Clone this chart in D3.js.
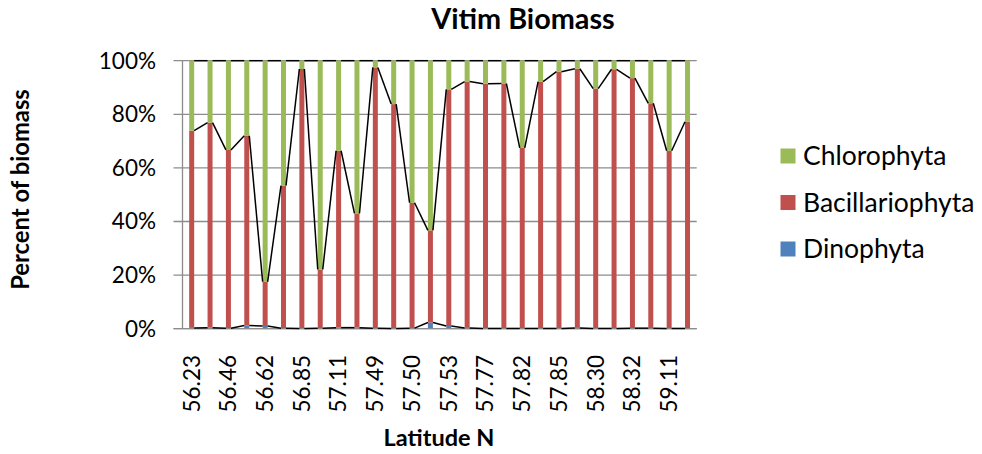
<!DOCTYPE html>
<html>
<head>
<meta charset="utf-8">
<script src="https://cdn.jsdelivr.net/npm/d3@7"></script>
<style>
  html, body { margin: 0; padding: 0; background: #fff; }
  svg { display: block; font-family: Lato, "Open Sans", sans-serif; }
</style>
</head>
<body>
<svg id="chart" width="982" height="454"></svg>
<script>
// Station latitude labels (only every other one is shown on the axis; blanks are hidden labels)
const latitudeLabels = ["56.23","","56.46","","56.62","","56.85","","57.11","","57.49","","57.50","",
                        "57.53","","57.77","","57.82","","57.85","","58.30","","58.32","","59.11",""];
const stations = latitudeLabels.map((d, i) => i);

// Percent of biomass per station
const dinophyta = [0.3,0.4,0.2,1.2,1.0,0.2,0.1,0.2,0.4,0.4,0.2,0.1,0.2,2.3,
                   1.0,0.3,0.1,0.1,0.1,0.1,0.1,0.3,0.1,0.1,0.2,0.2,0.1,0.1];
const bacillariophyta = [73.6,76.5,66.5,70.8,16.5,53.2,96.8,21.9,66.0,42.6,97.3,83.7,46.8,34.4,
                         88.3,91.9,91.3,91.4,67.4,92.1,95.8,96.7,89.5,96.7,93.3,83.9,66.3,77.1];
const chlorophyta = dinophyta.map((d, i) => +(100 - d - bacillariophyta[i]).toFixed(1));

const seriesNames = ["Dinophyta", "Bacillariophyta", "Chlorophyta"];
const seriesColors = ["#4F81BD", "#C0504D", "#9BBB59"];
const yTicks = [0, 20, 40, 60, 80, 100];

const table = stations.map((s, i) => ({
  station: s,
  Dinophyta: dinophyta[i],
  Bacillariophyta: bacillariophyta[i],
  Chlorophyta: chlorophyta[i]
}));

const svg = d3.select("#chart");
const margin = { left: 182.5, right: 982 - 696.7, top: 60.7, bottom: 454 - 328.7 };
const W = 982, H = 454;

const x = d3.scaleBand().domain(stations).range([margin.left, W - margin.right]).padding(0);
const y = d3.scaleLinear().domain([0, 100]).range([H - margin.bottom, margin.top]);

const stack = d3.stack().keys(seriesNames)(table);
const barW = 5;
const FONT = 22.5;

// gridlines
svg.append("g").selectAll("line").data(yTicks).join("line")
  .attr("x1", margin.left - 9).attr("x2", W - margin.right)
  .attr("y1", d => y(d)).attr("y2", d => y(d))
  .attr("stroke", "#8c8c8c").attr("stroke-width", 1.3);

// y axis line
svg.append("line")
  .attr("x1", margin.left).attr("x2", margin.left)
  .attr("y1", y(0)).attr("y2", y(100))
  .attr("stroke", "#8c8c8c").attr("stroke-width", 1.3);

// bars
stack.forEach((layer, k) => {
  svg.append("g").selectAll("rect").data(layer).join("rect")
    .attr("x", d => x(d.data.station) + x.bandwidth() / 2 - barW / 2)
    .attr("width", barW)
    .attr("y", d => y(d[1]))
    .attr("height", d => Math.max(0, y(d[0]) - y(d[1])))
    .attr("fill", seriesColors[k]);
});

// x axis line
svg.append("line")
  .attr("x1", margin.left - 9).attr("x2", W - margin.right)
  .attr("y1", y(0)).attr("y2", y(0))
  .attr("stroke", "#8c8c8c").attr("stroke-width", 1.3);

// series lines
stack.forEach(layer => {
  const segs = [];
  for (let i = 0; i < layer.length - 1; i++) {
    segs.push([
      [x(layer[i].data.station) + x.bandwidth() / 2 + barW / 2, y(layer[i][1])],
      [x(layer[i + 1].data.station) + x.bandwidth() / 2 - barW / 2, y(layer[i + 1][1])]
    ]);
  }
  svg.append("g").selectAll("line").data(segs).join("line")
    .attr("x1", d => d[0][0]).attr("y1", d => d[0][1])
    .attr("x2", d => d[1][0]).attr("y2", d => d[1][1])
    .attr("stroke", "#000").attr("stroke-width", 1.5);
});

// y tick labels
svg.append("g").selectAll("text").data(yTicks).join("text")
  .attr("x", 156).attr("y", d => y(d)).attr("dy", "0.35em")
  .attr("text-anchor", "end").attr("font-size", FONT).attr("fill", "#000")
  .text(d => d + "%");

// x tick labels
svg.append("g").selectAll("text").data(stations.filter(s => latitudeLabels[s] !== "")).join("text")
  .attr("transform", d => `translate(${x(d) + x.bandwidth() / 2},355) rotate(-90)`)
  .attr("text-anchor", "end").attr("dy", "0.35em")
  .attr("font-size", FONT).attr("fill", "#000")
  .text(d => latitudeLabels[d]);

// title
svg.append("text").attr("x", 523).attr("y", 28.5)
  .attr("text-anchor", "middle").attr("font-weight", "bold").attr("font-size", 28.8)
  .text("Vitim Biomass");

// axis titles
svg.append("text").attr("x", 439).attr("y", 445.5)
  .attr("text-anchor", "middle").attr("font-weight", "bold").attr("font-size", 23.5)
  .text("Latitude N");
svg.append("text")
  .attr("transform", `translate(28.5,189.5) rotate(-90)`)
  .attr("text-anchor", "middle").attr("font-weight", "bold").attr("font-size", 23.8)
  .text("Percent of biomass");

// legend (Chlorophyta first)
const legendOrder = [2, 1, 0];
const lg = svg.append("g").selectAll("g").data(legendOrder).join("g")
  .attr("transform", (d, i) => `translate(780.5,${165 + i * 46.5})`);
lg.append("rect").attr("x", 0).attr("y", -16.5).attr("width", 15).attr("height", 15)
  .attr("fill", d => seriesColors[d]);
lg.append("text").attr("x", 22.5).attr("y", 0)
  .attr("font-size", 26.5).text(d => seriesNames[d]);
</script>
</body>
</html>
